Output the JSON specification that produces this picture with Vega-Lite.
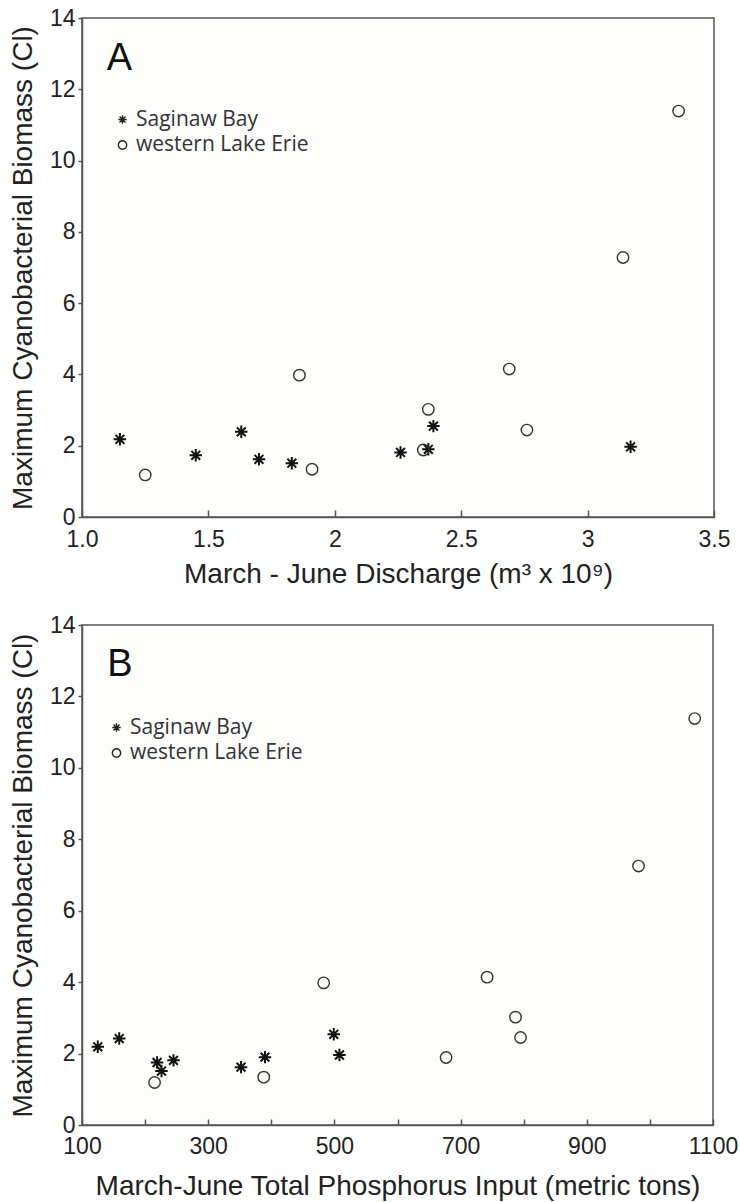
{
  "$schema": "https://vega.github.io/schema/vega-lite/v6.json",
  "background": "white",
  "padding": {"left": 8, "top": 6, "right": 5, "bottom": 5},
  "datasets": {
    "discharge": [
      {"site": "Saginaw Bay", "discharge": 1.15, "biomass": 2.18},
      {"site": "Saginaw Bay", "discharge": 1.45, "biomass": 1.73},
      {"site": "Saginaw Bay", "discharge": 1.63, "biomass": 2.39},
      {"site": "Saginaw Bay", "discharge": 1.70, "biomass": 1.62},
      {"site": "Saginaw Bay", "discharge": 1.83, "biomass": 1.51},
      {"site": "Saginaw Bay", "discharge": 2.26, "biomass": 1.81},
      {"site": "Saginaw Bay", "discharge": 2.37, "biomass": 1.90},
      {"site": "Saginaw Bay", "discharge": 2.39, "biomass": 2.55},
      {"site": "Saginaw Bay", "discharge": 3.17, "biomass": 1.97},
      {"site": "western Lake Erie", "discharge": 1.25, "biomass": 1.18},
      {"site": "western Lake Erie", "discharge": 1.86, "biomass": 3.98},
      {"site": "western Lake Erie", "discharge": 1.91, "biomass": 1.34},
      {"site": "western Lake Erie", "discharge": 2.35, "biomass": 1.88},
      {"site": "western Lake Erie", "discharge": 2.37, "biomass": 3.02},
      {"site": "western Lake Erie", "discharge": 2.69, "biomass": 4.15},
      {"site": "western Lake Erie", "discharge": 2.76, "biomass": 2.44},
      {"site": "western Lake Erie", "discharge": 3.14, "biomass": 7.28},
      {"site": "western Lake Erie", "discharge": 3.36, "biomass": 11.39}
    ],
    "phosphorus": [
      {"site": "Saginaw Bay", "phosphorus": 125, "biomass": 2.19},
      {"site": "Saginaw Bay", "phosphorus": 159, "biomass": 2.42},
      {"site": "Saginaw Bay", "phosphorus": 219, "biomass": 1.75},
      {"site": "Saginaw Bay", "phosphorus": 226, "biomass": 1.51},
      {"site": "Saginaw Bay", "phosphorus": 245, "biomass": 1.81},
      {"site": "Saginaw Bay", "phosphorus": 352, "biomass": 1.62},
      {"site": "Saginaw Bay", "phosphorus": 390, "biomass": 1.90},
      {"site": "Saginaw Bay", "phosphorus": 499, "biomass": 2.54},
      {"site": "Saginaw Bay", "phosphorus": 508, "biomass": 1.96},
      {"site": "western Lake Erie", "phosphorus": 215, "biomass": 1.19},
      {"site": "western Lake Erie", "phosphorus": 388, "biomass": 1.34},
      {"site": "western Lake Erie", "phosphorus": 483, "biomass": 3.98},
      {"site": "western Lake Erie", "phosphorus": 677, "biomass": 1.89},
      {"site": "western Lake Erie", "phosphorus": 742, "biomass": 4.14},
      {"site": "western Lake Erie", "phosphorus": 787, "biomass": 3.02},
      {"site": "western Lake Erie", "phosphorus": 795, "biomass": 2.45},
      {"site": "western Lake Erie", "phosphorus": 982, "biomass": 7.25},
      {"site": "western Lake Erie", "phosphorus": 1071, "biomass": 11.38}
    ]
  },
  "config": {
    "view": {"stroke": "#555", "strokeWidth": 1.5, "fill": "#fdfdfc"},
    "axis": {
      "labelFont": "Liberation Sans", "titleFont": "Liberation Sans",
      "labelFontSize": 23, "titleFontSize": 28, "titleFontWeight": "normal",
      "labelColor": "#222", "titleColor": "#222",
      "domainColor": "#555", "domainWidth": 1.5, "tickColor": "#555", "tickWidth": 1.5, "grid": false
    },
    "legend": {
      "title": null, "orient": "none", "labelFont": "Open Sans", "labelFontSize": 21, "labelColor": "#333", "labelLimit": 0,
      "symbolSize": 70, "symbolStrokeWidth": 1.4, "symbolStrokeColor": "#222", "symbolFillColor": "transparent",
      "rowPadding": 3.5, "labelOffset": 3, "padding": 0
    }
  },
  "resolve": {"scale": {"shape": "independent"}, "legend": {"shape": "independent"}},
  "spacing": 24,
  "vconcat": [
    {
      "width": 632, "height": 499,
      "data": {"name": "discharge"},
      "encoding": {
        "x": {"field": "discharge", "type": "quantitative",
          "scale": {"domain": [1, 3.5], "nice": false, "zero": false},
          "axis": {"values": [1, 1.5, 2, 2.5, 3, 3.5], "labelExpr": "datum.value == 1 ? '1.0' : '' + datum.value",
            "title": "March - June Discharge (m³ x 10⁹)", "tickSize": -7, "labelPadding": 18, "titlePadding": 9, "labelFlush": false}},
        "y": {"field": "biomass", "type": "quantitative",
          "scale": {"domain": [0, 14], "nice": false},
          "axis": {"values": [0, 2, 4, 6, 8, 10, 12, 14], "title": "Maximum Cyanobacterial Biomass (Cl)",
            "tickSize": 4, "labelPadding": 3, "titlePadding": 12, "labelFlush": false}}
      },
      "layer": [
        {
          "transform": [{"filter": "datum.site == 'Saginaw Bay'"}],
          "mark": {"type": "point", "filled": false, "stroke": "#111", "strokeWidth": 2, "size": 155, "opacity": 1},
          "encoding": {
            "shape": {"field": "site", "type": "nominal",
              "scale": {"domain": ["Saginaw Bay", "western Lake Erie"],
                "range": ["M-1,0L1,0M0,-1L0,1M-0.71,-0.71L0.71,0.71M-0.71,0.71L0.71,-0.71", "circle"]},
              "legend": {"legendX": 30, "legendY": 91}}
          }
        },
        {
          "transform": [{"filter": "datum.site == 'western Lake Erie'"}],
          "mark": {"type": "point", "filled": false, "stroke": "#333", "strokeWidth": 1.4, "size": 130, "opacity": 1},
          "encoding": {
            "shape": {"field": "site", "type": "nominal"}
          }
        },
        {
          "data": {"values": [{"letter": "A", "discharge": 1.148, "biomass": 12.54}]},
          "mark": {"type": "text", "fontSize": 38, "font": "Liberation Sans", "align": "center", "baseline": "alphabetic", "color": "#111"},
          "encoding": {
            "text": {"field": "letter"}
          }
        }
      ]
    },
    {
      "width": 631, "height": 500,
      "data": {"name": "phosphorus"},
      "encoding": {
        "x": {"field": "phosphorus", "type": "quantitative",
          "scale": {"domain": [100, 1100], "nice": false, "zero": false},
          "axis": {"values": [100, 200, 300, 400, 500, 600, 700, 800, 900, 1000, 1100],
            "labelExpr": "datum.value % 200 == 100 ? '' + datum.value : ''",
            "title": "March-June Total Phosphorus Input (metric tons)", "tickSize": -6, "labelPadding": 16, "titlePadding": 14, "labelFlush": false}},
        "y": {"field": "biomass", "type": "quantitative",
          "scale": {"domain": [0, 14], "nice": false},
          "axis": {"values": [0, 2, 4, 6, 8, 10, 12, 14], "title": "Maximum Cyanobacterial Biomass (Cl)",
            "tickSize": 4, "labelPadding": 3, "titlePadding": 12, "labelFlush": false}}
      },
      "layer": [
        {
          "transform": [{"filter": "datum.site == 'Saginaw Bay'"}],
          "mark": {"type": "point", "filled": false, "stroke": "#111", "strokeWidth": 2, "size": 155, "opacity": 1},
          "encoding": {
            "shape": {"field": "site", "type": "nominal",
              "scale": {"domain": ["Saginaw Bay", "western Lake Erie"],
                "range": ["M-1,0L1,0M0,-1L0,1M-0.71,-0.71L0.71,0.71M-0.71,0.71L0.71,-0.71", "circle"]},
              "legend": {"legendX": 24, "legendY": 92}}
          }
        },
        {
          "transform": [{"filter": "datum.site == 'western Lake Erie'"}],
          "mark": {"type": "point", "filled": false, "stroke": "#333", "strokeWidth": 1.4, "size": 130, "opacity": 1},
          "encoding": {
            "shape": {"field": "site", "type": "nominal"}
          }
        },
        {
          "data": {"values": [{"letter": "B", "phosphorus": 160, "biomass": 12.57}]},
          "mark": {"type": "text", "fontSize": 38, "font": "Liberation Sans", "align": "center", "baseline": "alphabetic", "color": "#111"},
          "encoding": {
            "text": {"field": "letter"}
          }
        }
      ]
    }
  ]
}
